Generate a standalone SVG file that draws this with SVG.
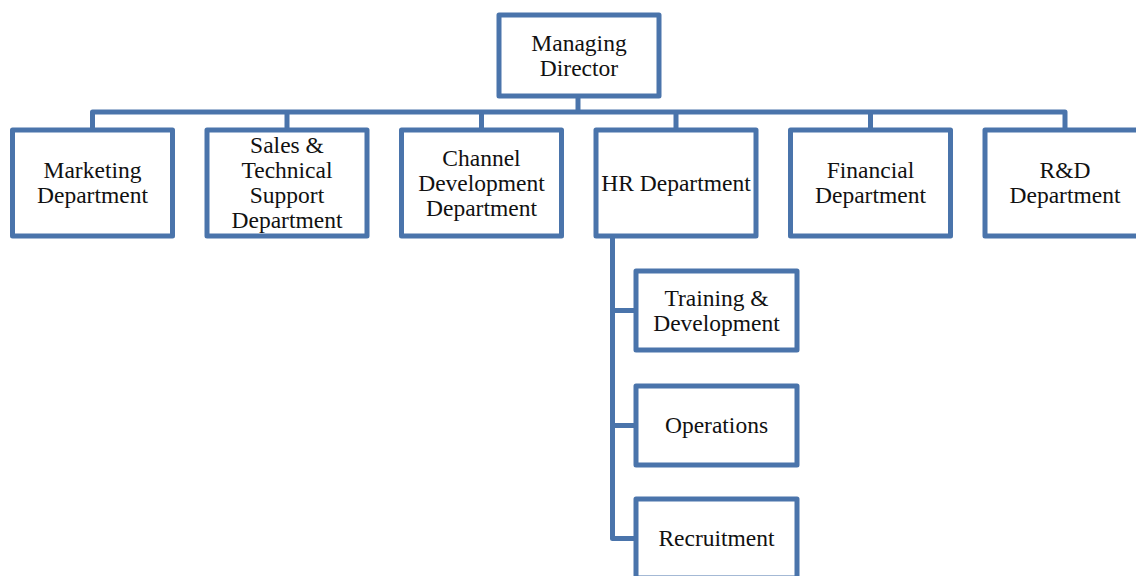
<svg xmlns="http://www.w3.org/2000/svg" width="1136" height="576" viewBox="0 0 1136 576">
  <style>
    .box { fill: #ffffff; stroke: #4a74ab; stroke-width: 5; stroke-linejoin: round; }
    .link { fill: none; stroke: #4a74ab; stroke-width: 5; stroke-linejoin: round; stroke-linecap: butt; }
    .lbl { font-family: "Liberation Serif", "Times New Roman", serif; font-size: 23.5px; fill: #111111; text-anchor: middle; }
  </style>
  <rect width="1136" height="576" fill="#ffffff"/>

  <!-- connectors -->
  <g id="connectors">
    <path class="link" d="M578,96 V112"/>
    <path class="link" d="M92.5,130 V112 H1065 V130"/>
    <path class="link" d="M287,112 V130 M481.5,112 V130 M676,112 V130 M870.5,112 V130"/>
    <path class="link" d="M612.5,236 V538.5 H636"/>
    <path class="link" d="M612.5,310.5 H636 M612.5,425.5 H636"/>
  </g>

  <g id="managing-director">
    <rect class="box" x="499" y="15" width="160" height="81"/>
    <text class="lbl" x="579" y="50.5">Managing</text>
    <text class="lbl" x="579" y="75.5">Director</text>
  </g>

  <g id="marketing">
    <rect class="box" x="12.5" y="130" width="160" height="106"/>
    <text class="lbl" x="92.5" y="178">Marketing</text>
    <text class="lbl" x="92.5" y="203">Department</text>
  </g>

  <g id="sales">
    <rect class="box" x="207" y="130" width="160" height="106"/>
    <text class="lbl" x="287" y="153">Sales &amp;</text>
    <text class="lbl" x="287" y="178">Technical</text>
    <text class="lbl" x="287" y="203">Support</text>
    <text class="lbl" x="287" y="228">Department</text>
  </g>

  <g id="channel">
    <rect class="box" x="401.5" y="130" width="160" height="106"/>
    <text class="lbl" x="481.5" y="165.5">Channel</text>
    <text class="lbl" x="481.5" y="190.5">Development</text>
    <text class="lbl" x="481.5" y="215.5">Department</text>
  </g>

  <g id="hr">
    <rect class="box" x="596" y="130" width="160" height="106"/>
    <text class="lbl" x="676" y="190.5">HR Department</text>
  </g>

  <g id="financial">
    <rect class="box" x="790.5" y="130" width="160" height="106"/>
    <text class="lbl" x="870.5" y="178">Financial</text>
    <text class="lbl" x="870.5" y="203">Department</text>
  </g>

  <g id="rnd">
    <rect class="box" x="985" y="130" width="160" height="106"/>
    <text class="lbl" x="1065" y="178">R&amp;D</text>
    <text class="lbl" x="1065" y="203">Department</text>
  </g>

  <g id="training">
    <rect class="box" x="636" y="271" width="161" height="79"/>
    <text class="lbl" x="716.5" y="305.5">Training &amp;</text>
    <text class="lbl" x="716.5" y="330.5">Development</text>
  </g>

  <g id="operations">
    <rect class="box" x="636" y="386" width="161" height="79"/>
    <text class="lbl" x="716.5" y="433">Operations</text>
  </g>

  <g id="recruitment">
    <rect class="box" x="636" y="499" width="161" height="79"/>
    <text class="lbl" x="716.5" y="546">Recruitment</text>
  </g>
</svg>
